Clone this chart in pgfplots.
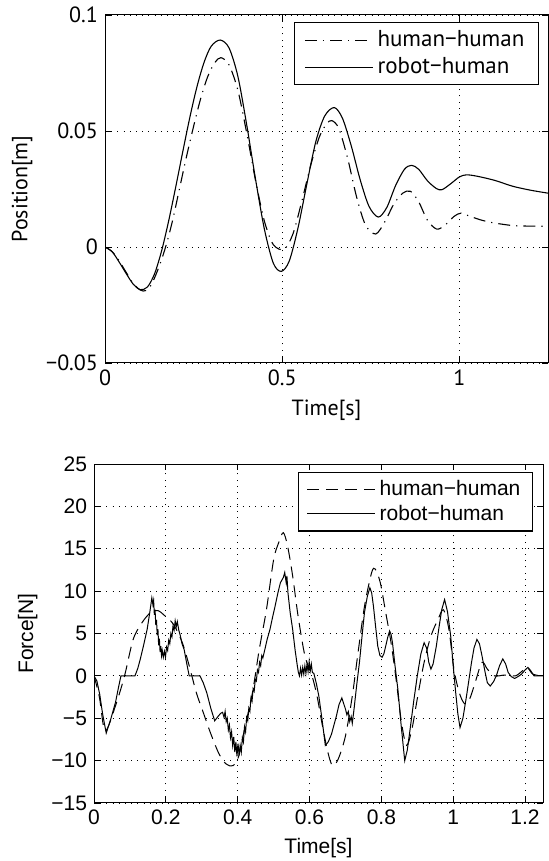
\documentclass[border=0pt]{standalone}
\usepackage{fontspec}
\setmainfont{Liberation Sans}
\newfontfamily\ptsans{PT Sans}
\usepackage{pgfplots}
\pgfplotsset{compat=1.18}

\pgfplotsset{
  matlabstyle/.style={
    scale only axis,
    axis line style={black, line width=0.5pt},
    tick style={black, line width=0.4pt},
    major tick length=3pt,
    tick align=inside,
    grid=major,
    major grid style={black, line width=0.4pt, dash pattern=on 0.5pt off 2.6pt},
    legend cell align=left,
    legend image code/.code={\draw[#1] (0pt,0pt) -- (34pt,0pt);},
  },
}

\begin{document}
\begin{tikzpicture}
% ---------- position ----------
\begin{axis}[
  matlabstyle,
  at={(52.5pt,249pt)}, anchor=south west,
  width=221.5pt, height=174pt,
  xmin=0, xmax=1.25, ymin=-0.05, ymax=0.1,
  xtick={0,0.5,1}, xticklabels={0,0.5,1},
  ytick={-0.05,0,0.05,0.1}, yticklabels={−0.05,0,0.05,0.1},
  tick label style={font=\ptsans\fontsize{11}{13}\selectfont},
  label style={font=\ptsans\fontsize{11}{13}\selectfont},
  xlabel={Time[s]}, ylabel={Position[m]},
  legend style={at={(1,1)}, anchor=north east, xshift=-4.5pt, yshift=-3.5pt,
    font=\ptsans\fontsize{11.5}{13.5}\selectfont, draw=black, line width=0.6pt,
    row sep=0pt, inner xsep=5pt, inner ysep=2pt},
]
\addplot[black, line width=0.55pt, smooth, dash pattern=on 6pt off 3pt on 0.6pt off 3pt] coordinates {
(0,0) (0.02,-0.002) (0.04,-0.006) (0.06,-0.011) (0.08,-0.0158) (0.10,-0.0186) (0.115,-0.0188)
(0.13,-0.0165) (0.15,-0.0095) (0.17,-0.0005) (0.19,0.011) (0.21,0.025) (0.23,0.039) (0.25,0.052)
(0.27,0.064) (0.29,0.0735) (0.31,0.0795) (0.327,0.0816) (0.35,0.0785) (0.375,0.0675) (0.40,0.0490)
(0.425,0.0285) (0.45,0.0110) (0.475,0.0010) (0.505,-0.0010) (0.53,0.0055) (0.555,0.0195) (0.58,0.0350)
(0.605,0.0475) (0.625,0.0530) (0.640,0.0545) (0.66,0.0510) (0.685,0.0380) (0.71,0.0215) (0.735,0.0095)
(0.764,0.0056) (0.79,0.0110) (0.815,0.0185) (0.84,0.0232) (0.862,0.0240) (0.885,0.0195) (0.91,0.0115)
(0.936,0.0077) (0.96,0.0095) (0.985,0.0132) (1.005,0.0146) (1.03,0.0132) (1.064,0.0115) (1.1,0.0103)
(1.153,0.0092) (1.2,0.0090) (1.25,0.0089)
};
\addlegendentry{human−human}
\addplot[black, line width=0.55pt, smooth] coordinates {
(0,0) (0.02,-0.002) (0.04,-0.0065) (0.06,-0.0115) (0.08,-0.0161) (0.10,-0.0184) (0.12,-0.0172)
(0.14,-0.0115) (0.16,-0.0015) (0.18,0.0115) (0.20,0.0262) (0.22,0.0415) (0.24,0.0563) (0.26,0.0694)
(0.28,0.0798) (0.30,0.0866) (0.325,0.0892) (0.35,0.0858) (0.375,0.0735) (0.40,0.0525) (0.425,0.0290)
(0.45,0.0075) (0.475,-0.0070) (0.4975,-0.0105) (0.52,-0.0060) (0.545,0.0085) (0.57,0.0275) (0.595,0.0455)
(0.62,0.0565) (0.647,0.0601) (0.67,0.0555) (0.695,0.0435) (0.72,0.0290) (0.745,0.0175) (0.771,0.0129)
(0.795,0.0170) (0.82,0.0265) (0.845,0.0335) (0.865,0.0352) (0.885,0.0335) (0.91,0.0285) (0.935,0.0252)
(0.951,0.0247) (0.975,0.0272) (1.0,0.0302) (1.02,0.0311) (1.05,0.0305) (1.1,0.0287) (1.15,0.0262)
(1.2,0.0245) (1.25,0.0232)
};
\addlegendentry{robot−human}
\end{axis}

% ---------- force ----------
\begin{axis}[
  matlabstyle,
  at={(47pt,29pt)}, anchor=south west,
  width=224.5pt, height=169.5pt,
  xmin=0, xmax=1.25, ymin=-15, ymax=25,
  xtick={0,0.2,0.4,0.6,0.8,1,1.2}, xticklabels={0,0.2,0.4,0.6,0.8,1,1.2},
  ytick={-15,-10,-5,0,5,10,15,20,25}, yticklabels={−15,−10,−5,0,5,10,15,20,25},
  tick label style={font=\fontsize{10.5}{12.5}\selectfont},
  label style={font=\fontsize{10.5}{12.5}\selectfont},
  xlabel={Time[s]}, ylabel={Force[N]},
  legend style={at={(1,1)}, anchor=north east, xshift=-5pt, yshift=-4pt,
    font=\fontsize{10.5}{12.5}\selectfont, draw=black, line width=0.6pt,
    row sep=-1pt, inner xsep=4pt, inner ysep=2pt},
]
\addplot[black, line width=0.5pt, smooth, dash pattern=on 6pt off 3.5pt] coordinates {
(0,0) (0.015,-2.5) (0.031,-6.5) (0.06,-3.5) (0.085,0) (0.109,4.3) (0.134,6.3) (0.158,7.5)
(0.178,7.7) (0.197,7.1) (0.221,6.1) (0.246,3.9) (0.265,1.2) (0.285,-2) (0.304,-4.3) (0.324,-6.7)
(0.348,-9.2) (0.368,-10.4) (0.387,-10.6) (0.402,-9.6) (0.421,-5.9) (0.441,-2) (0.460,3.1)
(0.480,7.8) (0.5,13.7) (0.514,15.7) (0.527,16.9) (0.539,15.3) (0.553,11.8) (0.568,7.1)
(0.587,2.4) (0.607,0) (0.621,-2.4) (0.636,-5.9) (0.651,-9) (0.664,-10.6) (0.68,-9.8) (0.7,-7.1)
(0.719,-2.4) (0.734,2.4) (0.753,8.2) (0.773,12.2) (0.783,12.6) (0.797,11) (0.812,7.5) (0.827,3.9)
(0.841,-0.4) (0.856,-5.5) (0.870,-8.2) (0.885,-6.3) (0.9,-2.7) (0.919,1.6) (0.938,4.7) (0.958,6.7)
(0.973,7.8) (0.988,5.5) (1.002,0.8) (1.017,-2) (1.032,-3.3) (1.046,-2.7) (1.061,-0.8) (1.080,1.6)
(1.095,0.8) (1.115,0) (1.144,0.1) (1.173,0) (1.193,0.6) (1.206,1) (1.222,0.2) (1.25,0)
};
\addlegendentry{human−human}
\addplot[black, line width=0.5pt] coordinates {
(0,0) (0.008,-0.6) (0.016,-2.2) (0.024,-4.5) (0.034,-6.75) (0.046,-5.2) (0.060,-3.1) (0.068,-1.4)
(0.075,0) (0.114,0) (0.122,0.9) (0.129,2) (0.138,3.6) (0.148,5.5) (0.155,7.4) (0.161,9.2)
(0.164,8.4) (0.166,8.9) (0.168,7.2) (0.170,7.8) (0.172,6.0) (0.174,6.6) (0.176,4.8) (0.178,5.5)
(0.180,3.6) (0.182,4.4) (0.184,2.8) (0.186,3.5) (0.188,2.4) (0.190,3.0) (0.193,2.2) (0.196,2.9)
(0.199,2.2) (0.202,3.4) (0.205,3.0) (0.208,4.2) (0.211,3.8) (0.214,5.0) (0.217,4.6) (0.220,5.9)
(0.223,5.4) (0.226,6.5) (0.229,5.8) (0.232,6.4) (0.236,5.4) (0.240,4.8) (0.245,3.8) (0.251,3.1)
(0.258,1.5) (0.265,0) (0.295,0) (0.304,-0.8) (0.314,-2) (0.325,-3.8) (0.336,-5.3) (0.345,-4.8)
(0.353,-4.4) (0.358,-4.3) (0.362,-4.9) (0.365,-4.2) (0.368,-5.4) (0.371,-5.0) (0.374,-6.4)
(0.377,-5.8) (0.380,-7.3) (0.383,-6.6) (0.386,-8.2) (0.389,-7.2) (0.392,-9.0) (0.395,-7.8)
(0.398,-9.5) (0.401,-8.0) (0.404,-9.4) (0.407,-8.2) (0.410,-9.0) (0.413,-7.3) (0.416,-7.8)
(0.419,-6.0) (0.422,-6.6) (0.425,-4.9) (0.428,-5.3) (0.431,-3.8) (0.434,-4.2) (0.437,-2.6)
(0.440,-3.0) (0.443,-1.5) (0.446,-1.8) (0.449,-0.4) (0.452,-0.6) (0.455,0.7) (0.458,0.4)
(0.461,1.6) (0.464,1.2) (0.467,2.4) (0.470,2.1) (0.475,3.0) (0.482,4.3) (0.490,5.5) (0.497,6.9)
(0.504,8.2) (0.512,9.8) (0.519,11) (0.527,11.6) (0.531,12.2) (0.535,11.0) (0.537,11.8)
(0.540,9.8) (0.546,7.5) (0.553,5.5) (0.560,3.0) (0.566,1.2) (0.569,0.4) (0.572,0) (0.575,0.9)
(0.578,0.1) (0.581,1.0) (0.584,0.2) (0.587,1.2) (0.590,0.3) (0.593,1.4) (0.596,0.5) (0.599,1.7)
(0.602,0.6) (0.605,1.4) (0.608,0.4) (0.612,0.3) (0.619,-0.9) (0.626,-2.4) (0.635,-5.2)
(0.644,-8.2) (0.652,-7.8) (0.661,-6.9) (0.668,-5.8) (0.675,-4.7) (0.682,-3.4) (0.690,-2.6)
(0.696,-3.4) (0.700,-3.9) (0.704,-4.6) (0.708,-4.2) (0.712,-5.4) (0.716,-4.8) (0.719,-5.6)
(0.724,-3.9) (0.731,-1.2) (0.739,1.6) (0.746,4.6) (0.753,7.5) (0.761,9.4) (0.768,10.4)
(0.773,9.8) (0.778,8.2) (0.784,5.8) (0.790,3.5) (0.796,2.4) (0.802,2.2) (0.807,2.6) (0.812,3.5)
(0.818,4.6) (0.823,5.3) (0.827,4.9) (0.831,3.9) (0.838,1.2) (0.846,-1.6) (0.855,-5.8)
(0.865,-10) (0.872,-8.8) (0.880,-6.3) (0.890,-3.0) (0.900,0) (0.910,2.6) (0.919,3.9) (0.926,3.3)
(0.932,1.6) (0.938,0.8) (0.944,1.4) (0.953,3.5) (0.960,5.6) (0.968,7.8) (0.976,9) (0.984,7.6)
(0.993,4.7) (1.000,1.2) (1.007,-2) (1.013,-4.5) (1.019,-6.1) (1.027,-5.0) (1.037,-2.4)
(1.044,-0.4) (1.051,1.6) (1.058,3.3) (1.066,4.3) (1.073,3.8) (1.080,2.4) (1.088,0.6)
(1.095,-0.8) (1.103,-1.2) (1.112,-0.7) (1.120,0) (1.129,1.2) (1.138,2) (1.146,1.4) (1.153,0.4)
(1.162,-0.1) (1.171,-0.3) (1.180,-0.1) (1.190,0.2) (1.200,0.7) (1.208,1.0) (1.216,0.6)
(1.225,0) (1.25,0)
};
\addlegendentry{robot−human}
\end{axis}
\pgfresetboundingbox
\useasboundingbox (0,0) rectangle (274.5pt,430.5pt);
\end{tikzpicture}
\end{document}
